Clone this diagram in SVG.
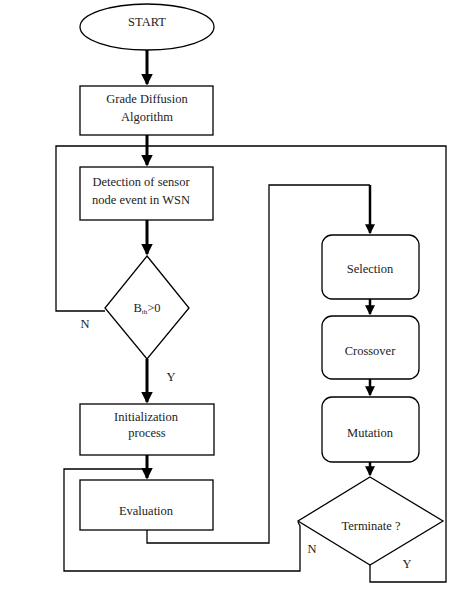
<svg xmlns="http://www.w3.org/2000/svg" width="465" height="592" viewBox="0 0 465 592">
<style>
.n{fill:#fff;stroke:#000;stroke-width:1.3}
.t{font-family:"Liberation Serif","Times New Roman",serif;font-size:12.5px;fill:#222;text-anchor:middle}
.l{fill:none;stroke:#000;stroke-width:1.3}
.k{fill:none;stroke:#000;stroke-width:3}
.a{fill:none;stroke:#000;stroke-width:2.5}
</style>
<defs>
<marker id="ah" markerWidth="4" markerHeight="4" refX="3.5" refY="2" orient="auto" markerUnits="strokeWidth">
<path d="M0,0 L4,2 L0,4 z" fill="#000"/>
</marker>
</defs>
<rect width="465" height="592" fill="#fff"/>
<g id="connectors">
<line class="k" x1="147" y1="50" x2="147" y2="84" marker-end="url(#ah)"/>
<line class="k" x1="147" y1="135" x2="147" y2="165" marker-end="url(#ah)"/>
<line class="k" x1="147" y1="220" x2="147" y2="254" marker-end="url(#ah)"/>
<line class="k" x1="147" y1="359" x2="147" y2="402" marker-end="url(#ah)"/>
<line class="k" x1="147" y1="455" x2="147" y2="478" marker-end="url(#ah)"/>
<polyline class="l" points="105,311 56,311 56,146 446,146 446,582 370,582 370,565"/>
<polyline class="l" points="147,530 147,543 269,543 269,185 370,185"/>
<line class="a" x1="370" y1="185" x2="370" y2="233" marker-end="url(#ah)"/>
<line class="a" x1="370" y1="299" x2="370" y2="314" marker-end="url(#ah)"/>
<line class="a" x1="370" y1="379" x2="370" y2="395" marker-end="url(#ah)"/>
<line class="a" x1="370" y1="462" x2="370" y2="475" marker-end="url(#ah)"/>
<polyline class="l" points="298,522 300,526 300,571 64,571 64,469 147,469"/>
</g>
<g id="start">
<ellipse class="n" cx="147" cy="27" rx="67" ry="23"/>
<text class="t" x="147" y="26" font-size="13">START</text>
</g>
<g id="grade">
<rect class="n" x="80" y="86" width="133" height="49"/>
<text class="t" x="147" y="103">Grade Diffusion</text>
<text class="t" x="147" y="121">Algorithm</text>
</g>
<g id="detection">
<rect class="n" x="80" y="167" width="133" height="53"/>
<text class="t" x="141" y="186">Detection of sensor</text>
<text class="t" x="141" y="204">node event in WSN</text>
</g>
<g id="bth">
<polygon class="n" points="147,256 189,308 147,359 105,308"/>
<text class="t" x="147" y="312">B<tspan font-size="7" dy="2">th</tspan><tspan dy="-2">&gt;0</tspan></text>
</g>
<g id="init">
<rect class="n" x="80" y="404" width="134" height="51"/>
<text class="t" x="146" y="421">Initialization</text>
<text class="t" x="147" y="437">process</text>
</g>
<g id="evaluation">
<rect class="n" x="80" y="480" width="133" height="50"/>
<text class="t" x="146" y="515">Evaluation</text>
</g>
<g id="selection">
<rect class="n" x="322" y="235" width="97" height="64" rx="10"/>
<text class="t" x="370" y="273">Selection</text>
</g>
<g id="crossover">
<rect class="n" x="322" y="316" width="97" height="63" rx="10"/>
<text class="t" x="370" y="355">Crossover</text>
</g>
<g id="mutation">
<rect class="n" x="322" y="397" width="97" height="65" rx="10"/>
<text class="t" x="370" y="437">Mutation</text>
</g>
<g id="terminate">
<polygon class="n" points="370,477 443,521 370,565 298,521"/>
<text class="t" x="371" y="530">Terminate ?</text>
</g>
<g id="labels">
<text class="t" x="85" y="328" font-size="13">N</text>
<text class="t" x="171" y="381" font-size="13">Y</text>
<text class="t" x="312" y="553" font-size="13">N</text>
<text class="t" x="407" y="568" font-size="13">Y</text>
</g>
</svg>
